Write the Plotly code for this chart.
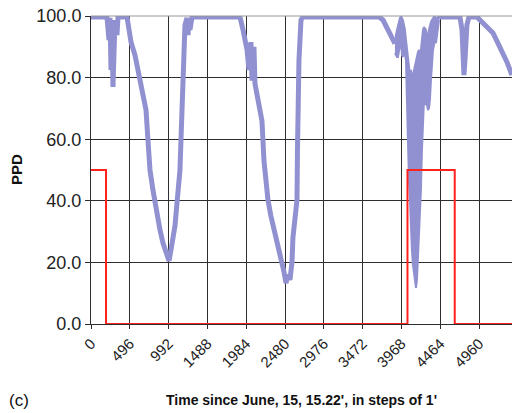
import plotly.graph_objects as go

# PPD series (minutes since start, PPD %) - smooth parts; None marks the noisy stretch drawn as a band
ppd_x = [0, 204, 230, 243, 256, 268, 281, 294, 307, 332, 345, 460, 511, 562, 601, 639, 703, 728, 754,
         792, 818, 856, 882, 920, 946, 971, 984, 997, 1022, 1048, 1074, 1099, 1125, 1137, 1150, 1163,
         1170, 1176, 1189, 1201, 1227, 1240, 1252, 1265, 1291, 1904, 1943, 1994, 2019, 2045, 2058,
         2083, 2096, 2121, 2160, 2185, 2211, 2262, 2300, 2352, 2403, 2441, 2466, 2492, 2518, 2543,
         2569, 2581, 2607, 2633, 2639, 2645, 2658, 2671, 2684, 2709, 3681, 3732, 3796, 3860, 3885,
         None,
         4448, 4461, 4716, 4742, 4754, 4767, 4780, 4793, 4805, 4831, 4933, 5010, 5074, 5138, 5201,
         5265, 5316, 5355, 5380]
ppd_y = [99.7, 99.7, 92.2, 99.4, 82.5, 95.5, 77.0, 90.6, 98.7, 93.8, 99.7, 99.7, 91.6, 87.3, 82.5,
         77.0, 69.5, 59.7, 50.0, 43.5, 39.3, 33.8, 30.5, 26.3, 24.0, 22.4, 20.8, 20.5, 24.0, 28.0,
         32.0, 39.3, 45.0, 50.0, 59.7, 68.5, 79.0, 85.7, 92.0, 97.0, 99.4, 93.8, 99.4, 95.5, 99.7,
         99.7, 95.5, 89.0, 82.5, 91.5, 79.0, 90.0, 78.0, 75.0, 69.5, 66.0, 53.0, 40.3, 35.0, 29.5,
         24.0, 20.8, 17.0, 13.3, 16.0, 14.3, 20.1, 28.0, 33.8, 40.3, 56.5, 72.7, 85.7, 92.2, 98.7,
         99.7, 99.7, 98.7, 95.5, 92.2, 91.0,
         None,
         99.7, 99.7, 99.7, 95.5, 89.0, 80.8, 85.7, 92.2, 97.1, 99.7, 99.7, 97.7, 96.1, 94.5, 91.2,
         88.0, 85.1, 82.5, 80.8]

# Noisy stretch around 3900-4450: upper and lower envelope of the PPD trace
band_x = [3885, 3898, 3911, 3923, 3936, 3949, 3962, 3975, 3987, 4000, 4013, 4026, 4038, 4051, 4064,
          4077, 4090, 4102, 4115, 4128, 4141, 4154, 4166, 4179, 4192, 4205, 4217, 4230, 4243, 4256,
          4269, 4281, 4294, 4307, 4320, 4332, 4345, 4358, 4371, 4384, 4396, 4409, 4422, 4435, 4448]
band_upper = [93.8, 93.8, 95.5, 97.1, 98.1, 99.4, 99.7, 99.4, 98.7, 97.1, 95.5, 92.2, 89.0, 85.7,
              82.5, 80.8, 82.5, 79.2, 80.8, 82.5, 84.1, 85.7, 87.3, 88.3, 89.0, 87.3, 89.0, 93.8,
              95.5, 96.4, 96.1, 95.5, 93.8, 92.2, 95.5, 97.1, 98.1, 98.7, 99.4, 99.7, 99.7, 99.4,
              98.7, 99.7, 99.7]
band_lower = [88.0, 87.3, 86.7, 86.7, 89.0, 90.6, 92.2, 87.3, 86.7, 89.0, 87.3, 85.7, 72.7, 56.5,
              46.8, 40.3, 30.5, 24.0, 19.2, 15.9, 12.7, 11.7, 14.3, 20.8, 27.3, 33.8, 43.5, 56.5,
              68.0, 72.7, 71.1, 72.7, 71.1, 69.5, 70.1, 72.7, 79.2, 85.7, 89.0, 90.6, 92.2, 91.2,
              93.8, 97.1, 98.7]

# Occupancy-like step series (red)
step_x = [0, 192, 4045, 4649, 5381]
step_y = [50, 0, 50, 0, 0]

x_ticks = [0, 496, 992, 1488, 1984, 2480, 2976, 3472, 3968, 4464, 4960]

BLUE = "rgb(145,145,210)"
RED = "rgb(255,35,30)"
GRID = "rgb(45,45,45)"
FONT = "Liberation Sans, Arial, sans-serif"

fig = go.Figure()
fig.add_trace(go.Scatter(x=band_x, y=band_lower, mode="lines",
                         line=dict(color=BLUE, width=2), showlegend=False, hoverinfo="skip"))
fig.add_trace(go.Scatter(x=band_x, y=band_upper, mode="lines", fill="tonexty", fillcolor=BLUE,
                         line=dict(color=BLUE, width=2), showlegend=False, hoverinfo="skip"))
fig.add_trace(go.Scatter(x=ppd_x, y=ppd_y, mode="lines", connectgaps=False,
                         line=dict(color=BLUE, width=5), showlegend=False))
fig.add_trace(go.Scatter(x=step_x, y=step_y, mode="lines", line_shape="hv",
                         line=dict(color=RED, width=2), showlegend=False))

fig.update_layout(
    width=512, height=413,
    margin=dict(l=91, r=0, t=16, b=89, autoexpand=False),
    paper_bgcolor="white", plot_bgcolor="white",
    font=dict(family=FONT, color="#222", size=16),
    hovermode=False,
    xaxis=dict(range=[0, 5381], tickvals=x_ticks, ticktext=[str(v) for v in x_ticks],
               tickangle=-45, showgrid=True, gridcolor=GRID, gridwidth=1, automargin=False,
               showline=True, linecolor=GRID, linewidth=1, mirror=False,
               ticks="outside", ticklen=4, tickcolor=GRID, zeroline=False,
               tickfont=dict(size=15, family=FONT, color="#222")),
    yaxis=dict(range=[0, 100], tickvals=[0, 20, 40, 60, 80, 100], tickformat=".1f",
               showgrid=True, gridcolor=GRID, gridwidth=1, automargin=False,
               showline=True, linecolor=GRID, linewidth=1,
               ticks="outside", ticklen=5, tickcolor=GRID, zeroline=False,
               tickfont=dict(size=18, family=FONT, color="#222")),
    shapes=[dict(type="line", xref="paper", yref="paper", x0=0, x1=1, y0=1, y1=1,
                 line=dict(color="rgb(150,150,150)", width=1))],
    annotations=[
        dict(text="<b>PPD</b>", xref="paper", yref="paper", x=-0.178, y=0.5, textangle=-90,
             showarrow=False, font=dict(size=15, family=FONT, color="#111"),
             xanchor="center", yanchor="middle"),
        dict(text="<b>Time since June, 15, 15.22', in steps of 1'</b>", xref="paper", yref="paper",
             x=0.5, y=-0.247, showarrow=False, font=dict(size=14, family=FONT, color="#111"),
             xanchor="center", yanchor="middle"),
        dict(text="(c)", xref="paper", yref="paper", x=-0.2, y=-0.247, showarrow=False,
             font=dict(size=17, family=FONT, color="#111"), xanchor="left", yanchor="middle"),
    ],
)

fig.write_html("out.html", config={"displayModeBar": False, "staticPlot": True},
               post_script="document.body.style.margin='0';document.body.style.overflow='hidden';")
